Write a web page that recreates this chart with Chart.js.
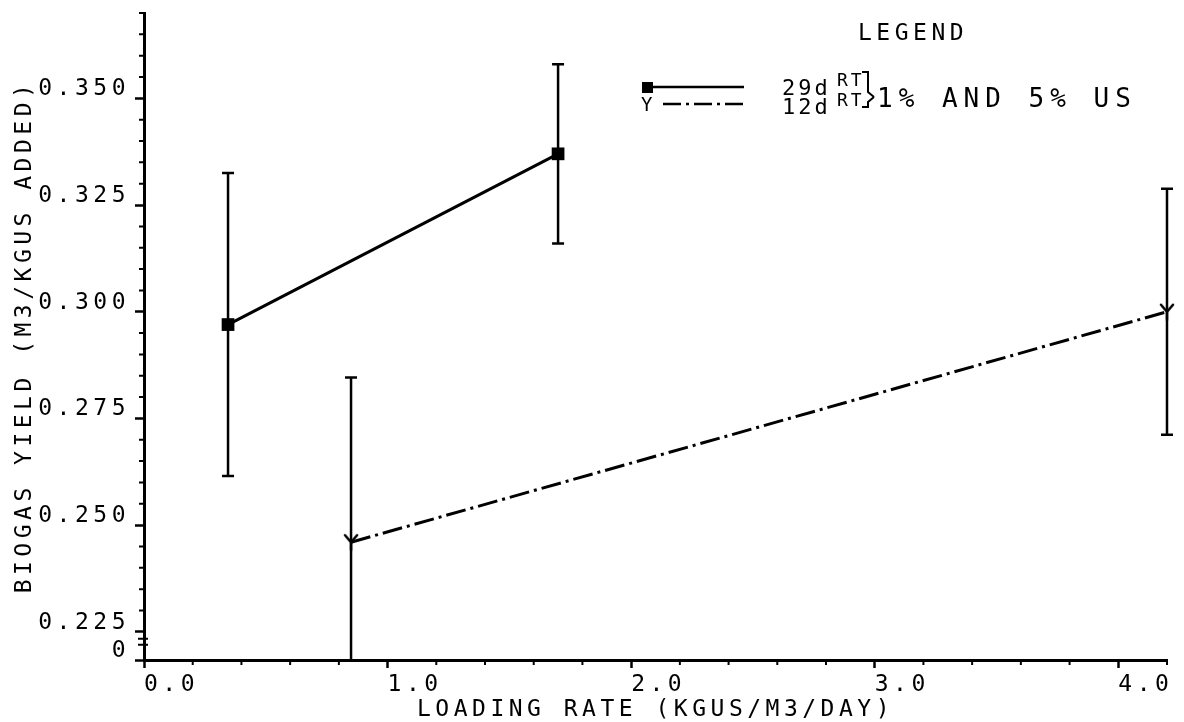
<!DOCTYPE html>
<html>
<head>
<meta charset="utf-8">
<title>Biogas yield vs loading rate</title>
<script src="https://cdn.jsdelivr.net/npm/chart.js@4"></script>
<style>
  html, body { margin: 0; padding: 0; background: #fff; }
  #wrap { width: 1184px; height: 722px; position: relative; }
</style>
</head>
<body>
<div id="wrap"><canvas id="biogasChart"></canvas></div>
<script>
// loading rate (kg VS / m3 / day) against biogas yield (m3 / kg VS added)
const rt29Loading = [0.345, 1.70];
const rt29Yield = [0.297, 0.337];
const rt29Error = [0.0355, 0.021];

const rt12Loading = [0.85, 4.2];
const rt12Yield = [0.246, 0.300];
const rt12Error = [0.0386, 0.0288];

const xTicks = [0, 1, 2, 3, 4];
const yTicks = [0.225, 0.250, 0.275, 0.300, 0.325, 0.350];
const xMax = 4.2;
const yMax = 0.370;
const yBreak = 0.2184; // bottom of the broken axis, labelled "0"
const xMinorStep = 0.2;
const yMinorStep = 0.005;

const plotFont = "'DejaVu Sans Mono', monospace";
const ink = '#000';
Chart.defaults.font.family = plotFont;
Chart.defaults.color = ink;

// little "Y" marker used for the 12 day series
function makeYMarker() {
  const c = document.createElement('canvas');
  c.width = 16;
  c.height = 18;
  const g = c.getContext('2d');
  g.strokeStyle = ink;
  g.lineWidth = 2.5;
  g.lineCap = 'round';
  g.beginPath();
  g.moveTo(2, 2); g.lineTo(8, 9); g.lineTo(14, 2);
  g.moveTo(8, 9); g.lineTo(8, 17);
  g.stroke();
  return c;
}
const yMarker = makeYMarker();

const errorSets = [rt29Error, rt12Error];

// wide plotter lettering
const spacing = {
  id: 'spacing',
  beforeLayout(chart) { chart.ctx.letterSpacing = '4.5px'; },
  beforeDraw(chart) { chart.ctx.letterSpacing = '4.5px'; }
};

const errorBars = {
  id: 'errorBars',
  beforeDatasetsDraw(chart) {
    const {ctx, chartArea, scales: {x, y}} = chart;
    ctx.save();
    ctx.beginPath();
    ctx.rect(chartArea.left - 20, chartArea.top, chartArea.width + 40, chartArea.height);
    ctx.clip();
    ctx.strokeStyle = ink;
    ctx.lineWidth = 2.5;
    chart.data.datasets.forEach((ds, di) => {
      ds.data.forEach((p, i) => {
        const e = errorSets[di][i];
        const px = x.getPixelForValue(p.x);
        const top = y.getPixelForValue(p.y + e);
        const bot = y.getPixelForValue(p.y - e);
        ctx.beginPath();
        ctx.moveTo(px, top); ctx.lineTo(px, bot);
        ctx.moveTo(px - 6, top); ctx.lineTo(px + 6, top);
        ctx.moveTo(px - 6, bot); ctx.lineTo(px + 6, bot);
        ctx.stroke();
      });
    });
    ctx.restore();
  }
};

// minor ticks, axis break and the hand-lettered legend
const decor = {
  id: 'decor',
  afterDraw(chart) {
    const {ctx, chartArea, scales: {x, y}} = chart;
    ctx.save();
    ctx.strokeStyle = ink;
    ctx.fillStyle = ink;
    ctx.lineWidth = 2;

    ctx.beginPath();
    const nx = Math.round(xMax / xMinorStep);
    for (let i = 0; i <= nx; i++) {
      if (i % 5 === 0 && i < nx) continue;
      const px = x.getPixelForValue(i * xMinorStep);
      ctx.moveTo(px, chartArea.bottom);
      ctx.lineTo(px, chartArea.bottom + 5);
    }
    const ny = Math.round((yMax - yTicks[0]) / yMinorStep);
    for (let i = 1; i <= ny; i++) {
      if (i % 5 === 0 && i < 30) continue;
      const py = y.getPixelForValue(yTicks[0] + i * yMinorStep);
      ctx.moveTo(chartArea.left, py);
      ctx.lineTo(chartArea.left - 5, py);
    }
    // axis break marks
    const pb = y.getPixelForValue(yTicks[0]);
    ctx.moveTo(chartArea.left - 6, pb + 7); ctx.lineTo(chartArea.left + 4, pb + 7);
    ctx.moveTo(chartArea.left - 6, pb + 13); ctx.lineTo(chartArea.left + 4, pb + 13);
    ctx.stroke();

    // legend
    const lx = chartArea.left + 499;
    const r1 = 87, r2 = 104;
    ctx.textBaseline = 'alphabetic';
    ctx.textAlign = 'left';
    ctx.letterSpacing = '4.5px';
    ctx.font = '23px ' + plotFont;
    ctx.fillText('LEGEND', lx + 215, 40);

    ctx.fillRect(lx - 1, r1 - 5, 11, 11);
    ctx.lineWidth = 2.5;
    ctx.beginPath();
    ctx.moveTo(lx + 9, r1); ctx.lineTo(lx + 101, r1);
    ctx.stroke();

    ctx.font = '19px ' + plotFont;
    ctx.fillText('Y', lx - 2, r2 + 7);
    ctx.setLineDash([18, 5, 3, 5]);
    ctx.beginPath();
    ctx.moveTo(lx + 20, r2); ctx.lineTo(lx + 100, r2);
    ctx.stroke();
    ctx.setLineDash([]);

    ctx.letterSpacing = '3px';
    ctx.font = '22px ' + plotFont;
    ctx.fillText('29d', lx + 139, 95);
    ctx.fillText('12d', lx + 139, 114);
    ctx.font = '18px ' + plotFont;
    ctx.fillText('RT', lx + 194, 86);
    ctx.fillText('RT', lx + 194, 106);

    ctx.lineWidth = 2;
    ctx.beginPath();
    ctx.moveTo(lx + 219, 72); ctx.lineTo(lx + 225, 72); ctx.lineTo(lx + 225, 92); ctx.lineTo(lx + 231, 97);
    ctx.moveTo(lx + 219, 107); ctx.lineTo(lx + 225, 107); ctx.lineTo(lx + 225, 102); ctx.lineTo(lx + 231, 97);
    ctx.stroke();

    ctx.letterSpacing = '6px';
    ctx.font = '26px ' + plotFont;
    ctx.fillText('1% AND 5% US', lx + 234, 107);
    ctx.restore();
  }
};

new Chart(document.getElementById('biogasChart'), {
  type: 'line',
  data: {
    datasets: [
      {
        label: '29d RT',
        data: rt29Loading.map((v, i) => ({x: v, y: rt29Yield[i]})),
        borderColor: ink,
        borderWidth: 3,
        pointStyle: 'rect',
        pointRadius: 9,
        pointBackgroundColor: ink,
        pointBorderWidth: 0,
        tension: 0,
        clip: false
      },
      {
        label: '12d RT',
        data: rt12Loading.map((v, i) => ({x: v, y: rt12Yield[i]})),
        borderColor: ink,
        borderWidth: 3,
        borderDash: [20, 5, 3, 5],
        pointStyle: yMarker,
        tension: 0,
        clip: false
      }
    ]
  },
  options: {
    responsive: true,
    maintainAspectRatio: false,
    animation: false,
    layout: { padding: { top: 13, right: 17, bottom: 0, left: 0 } },
    plugins: { legend: { display: false }, tooltip: { enabled: false } },
    scales: {
      x: {
        type: 'linear',
        min: 0,
        max: xMax,
        afterBuildTicks(s) { s.ticks = xTicks.map(v => ({ value: v })); },
        afterFit(s) { s.height = 62; s.paddingLeft = 0; s.paddingRight = 0; },
        ticks: {
          autoSkip: false,
          maxRotation: 0,
          align: 'start',
          padding: 3,
          font: { size: 23 },
          callback: v => v.toFixed(1)
        },
        grid: { drawOnChartArea: false, tickLength: 8, tickWidth: 2.5, tickColor: ink },
        border: { color: ink, width: 3 },
        title: {
          display: true,
          text: 'LOADING RATE (KGUS/M3/DAY)',
          font: { size: 23, lineHeight: 1 },
          padding: { top: 0, bottom: 0 }
        }
      },
      y: {
        type: 'linear',
        min: yBreak,
        max: yMax,
        afterBuildTicks(s) { s.ticks = [yBreak, ...yTicks].map(v => ({ value: v })); },
        afterFit(s) { s.width = 144; s.paddingTop = 0; s.paddingBottom = 0; },
        ticks: {
          autoSkip: false,
          padding: 5,
          labelOffset: -9,
          font: { size: 23 },
          callback: v => (v === yBreak ? '0' : v.toFixed(3))
        },
        grid: { drawOnChartArea: false, tickLength: 9, tickWidth: 2.5, tickColor: ink },
        border: { color: ink, width: 3 },
        title: {
          display: true,
          text: 'BIOGAS YIELD (M3/KGUS ADDED)',
          font: { size: 23, lineHeight: 1 },
          padding: { top: 14, bottom: 0 }
        }
      }
    }
  },
  plugins: [spacing, errorBars, decor]
});
</script>
</body>
</html>
